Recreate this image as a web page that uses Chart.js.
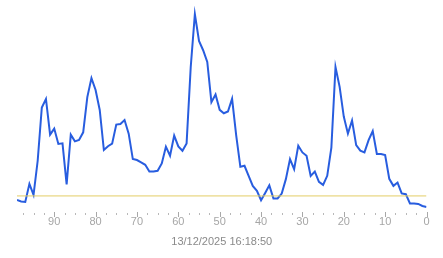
<!DOCTYPE html>
<html>
<head>
<meta charset="utf-8">
<script src="https://cdn.jsdelivr.net/npm/chart.js@4.4.1/dist/chart.umd.min.js"></script>
<style>
  html, body { margin: 0; padding: 0; background: #ffffff; }
  #wrap { width: 443px; height: 258px; position: relative; }
</style>
</head>
<body>
<div id="wrap"><canvas id="c"></canvas></div>
<script>
// Values listed left to right: x position 99 down to 0
const xStart = 99;
const seriesValues = [
  12, 10.5, 10, 28, 17, 51, 104, 112.5, 77, 83,
  67.7, 68.3, 27.5, 77, 70.3, 71.7, 79.3, 114.3, 133.3, 121.5,
  101.5, 61.7, 65.5, 68, 87, 87.5, 91.5, 78, 52.7, 51.7,
  49.3, 47, 40.3, 40.3, 41, 48.3, 65, 56, 76, 65.3,
  61, 68.3, 144.3, 197, 170.3, 161, 149.3, 109.3, 117, 101.7,
  98.3, 100, 112.7, 76, 45, 46, 36, 26, 21, 11.7,
  19, 26.5, 13.5, 13.5, 18.3, 32.7, 52.7, 42.7, 66, 59.3,
  56, 36, 40.3, 30, 27, 36, 64, 144.3, 124.5, 95,
  78, 91, 66.5, 61, 59.3, 71.5, 80.5, 57.7, 57.7, 56.7,
  33, 26, 29.3, 18.5, 17.7, 8.5, 8.5, 8, 6, 5
];
const thresholdValue = 16;
const tickLabels = [90, 80, 70, 60, 50, 40, 30, 20, 10, 0];
const axisTitle = '13/12/2025 16:18:50';

const linePoints = seriesValues.map((v, k) => ({ x: xStart - k, y: v }));
const thresholdPoints = [{ x: xStart, y: thresholdValue }, { x: 0, y: thresholdValue }];

const tickPlugin = {
  id: 'tickDots',
  afterDraw(chart) {
    const sc = chart.scales.x;
    const ctx = chart.ctx;
    ctx.save();
    sc.ticks.forEach(t => {
      const px = Math.round(sc.getPixelForValue(t.value));
      const major = tickLabels.includes(t.value);
      if (major) {
        ctx.fillStyle = '#a8a8a8';
        ctx.fillRect(px, sc.top, 1, 5);
      } else {
        ctx.fillStyle = '#b8b8b8';
        ctx.fillRect(px, sc.top + 1, 1, 2);
      }
    });
    ctx.restore();
  }
};

new Chart(document.getElementById('c'), {
  type: 'line',
  data: {
    datasets: [
      {
        data: thresholdPoints,
        borderColor: '#e3cd66',
        borderWidth: 1,
        pointRadius: 0,
        fill: false
      },
      {
        data: linePoints,
        borderColor: '#285ddf',
        borderWidth: 2,
        pointRadius: 0,
        tension: 0,
        fill: false
      }
    ]
  },
  plugins: [tickPlugin],
  options: {
    responsive: true,
    maintainAspectRatio: false,
    animation: false,
    layout: { padding: { left: 17, right: 16.5, top: 0, bottom: 5.6 } },
    plugins: { legend: { display: false }, tooltip: { enabled: false } },
    scales: {
      x: {
        type: 'linear',
        reverse: true,
        min: 0,
        max: xStart,
        border: { display: false },
        grid: { drawOnChartArea: false, drawTicks: true, tickLength: 1, tickColor: 'rgba(0,0,0,0)' },
        ticks: {
          stepSize: 2.5,
          includeBounds: false,
          autoSkip: false,
          maxRotation: 0,
          padding: 2,
          color: '#a6a6a6',
          font: { family: 'Liberation Sans, Arial, sans-serif', size: 11 },
          callback: (v) => tickLabels.includes(v) ? String(v) : ''
        },
        title: {
          display: true,
          text: axisTitle,
          color: '#8a8a8a',
          font: { family: 'Liberation Sans, Arial, sans-serif', size: 11 },
          padding: { top: 5, bottom: 4 }
        }
      },
      y: {
        display: false,
        min: 0,
        max: 211
      }
    }
  }
});
</script>
</body>
</html>
